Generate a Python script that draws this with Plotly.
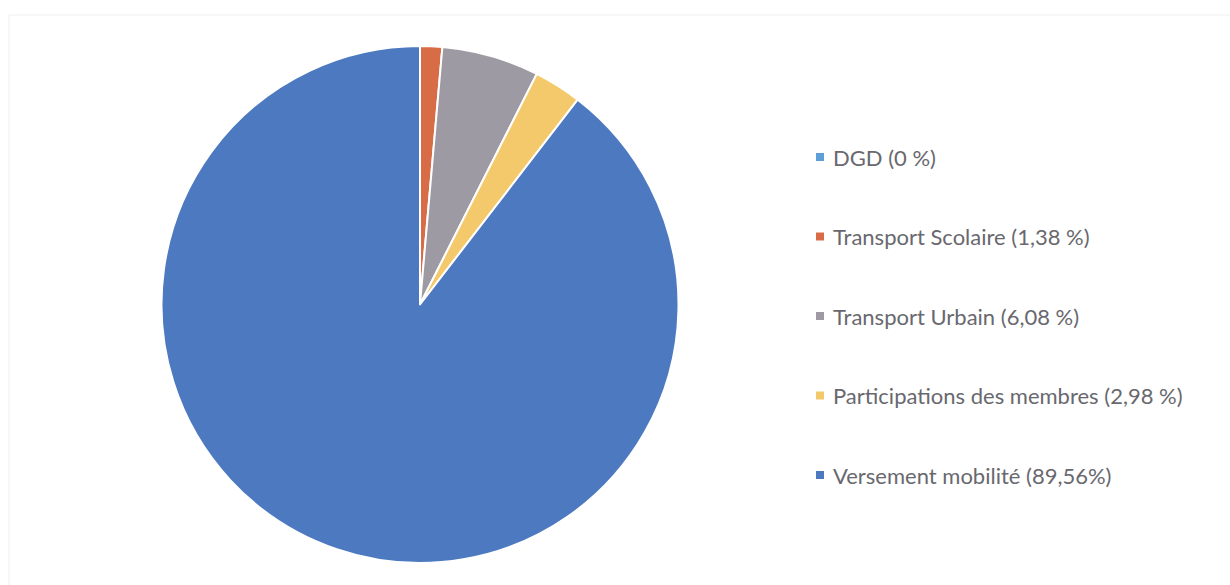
import plotly.graph_objects as go

# Répartition des recettes (%)
labels = ["DGD", "Transport Scolaire", "Transport Urbain",
          "Participations des membres", "Versement mobilité"]
values = [0.0, 1.38, 6.08, 2.98, 89.56]
legend_texts = ["DGD (0 %)", "Transport Scolaire (1,38 %)", "Transport Urbain (6,08 %)",
                "Participations des membres (2,98 %)", "Versement mobilité (89,56%)"]
colors = ["#5f9fd8", "#d86c46", "#9d9aa3", "#f4c96c", "#4c79c0"]

W, H = 1230, 585

fig = go.Figure()
fig.add_trace(go.Pie(
    labels=labels,
    values=values,
    sort=False,
    direction="clockwise",
    rotation=0,
    textinfo="none",
    hoverinfo="label+percent",
    marker=dict(colors=colors, line=dict(color="white", width=2)),
    domain=dict(x=[(420 - 258.5) / W, (420 + 258.5) / W],
                y=[(H - 563) / H, (H - 46) / H]),
    showlegend=False,
))

# Légende dessinée à droite : carré de couleur + libellé
legend_top = 157
legend_step = 79.5
shapes = [dict(type="rect", xref="paper", yref="paper",
               x0=9 / W, x1=1.01, y0=-0.01, y1=(H - 15) / H,
               line=dict(color="#efefef", width=1), fillcolor="rgba(0,0,0,0)")]
annotations = []
for i, (txt, col) in enumerate(zip(legend_texts, colors)):
    yc = legend_top + i * legend_step
    shapes.append(dict(type="rect", xref="paper", yref="paper",
                       x0=816 / W, x1=824 / W,
                       y0=(H - yc - 4) / H, y1=(H - yc + 4) / H,
                       line=dict(width=0), fillcolor=col))
    annotations.append(dict(text=txt, xref="paper", yref="paper",
                            x=831 / W, y=(H - yc) / H,
                            xanchor="left", yanchor="middle", showarrow=False,
                            font=dict(family="Lato", size=22, color="#68686e")))

fig.update_layout(
    width=W, height=H,
    margin=dict(l=0, r=0, t=0, b=0),
    paper_bgcolor="white",
    plot_bgcolor="white",
    shapes=shapes,
    annotations=annotations,
)

fig.write_html("out.html")
